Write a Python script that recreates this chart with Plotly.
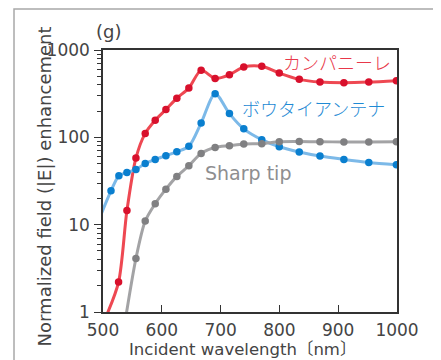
import plotly.graph_objects as go

# Data
red_x = [505.6, 526.5, 540.7, 556, 571.8, 588.8, 607, 625.6, 646, 666.9, 690.7, 715, 739.4, 770, 799.8, 833.8, 869, 909.7, 952, 999]
red_y = [0.9, 2.2, 14.5, 58, 111, 157, 208, 281, 366, 585, 473, 521, 638, 650, 544, 461, 429, 422, 429, 445]

blue_x = [487, 513.6, 527, 540.7, 556, 571.8, 588.8, 607, 625.6, 646, 666.9, 690.7, 715, 739.4, 770, 799.8, 833.8, 869, 909.7, 952, 999]
blue_y = [9.0, 24.4, 36.3, 39.6, 42.9, 50.2, 55.9, 61.6, 68.5, 78.8, 146, 315, 187, 125, 94, 78, 68, 61, 55.9, 51.6, 48.5]

gray_x = [533, 556, 571.8, 588.8, 607, 625.6, 646, 666.9, 690.7, 715, 739.4, 770, 799.8, 833.8, 869, 909.7, 952, 999]
gray_y = [0.5, 4.1, 11, 17.4, 25.5, 35.7, 47.3, 65.5, 76.7, 80.3, 84, 84.7, 89, 89.5, 89, 88.5, 88.5, 89]

x_ticks = [500, 600, 700, 800, 900, 1000]
y_ticks = [1, 10, 100, 1000]

series = [
    ("カンパニーレ", red_x, red_y, "#ee4852", "#d8102c"),
    ("ボウタイアンテナ", blue_x, blue_y, "#7cb9e8", "#0a7fcf"),
    ("Sharp tip", gray_x, gray_y, "#a3a3a5", "#808082"),
]

fig = go.Figure()
for name, xs, ys, lc, mc in series:
    fig.add_trace(go.Scatter(
        x=xs, y=ys, mode="lines+markers", name=name,
        line=dict(color=lc, width=3, shape="spline", smoothing=0.8),
        marker=dict(color=mc, size=7.5),
        cliponaxis=True, showlegend=False,
    ))

font = "DejaVu Sans, Noto Sans CJK JP, sans-serif"
jp = "Noto Sans CJK JP, sans-serif"
txt = "#444444"

fig.update_layout(
    width=433, height=352,
    margin=dict(l=95, r=44, t=42, b=48),
    paper_bgcolor="white", plot_bgcolor="white",
    font=dict(family=font, color=txt, size=16),
    xaxis=dict(
        range=[500, 1000], tickvals=x_ticks, ticktext=[str(v) for v in x_ticks],
        showgrid=False, zeroline=False, showline=True, linecolor="#333333", linewidth=1.5,
        mirror=True, ticks="inside", ticklen=7, tickcolor="#333333", tickwidth=1.2,
        tickfont=dict(size=17, color=txt), ticklabelstandoff=2,
    ),
    yaxis=dict(
        type="log", range=[0, 3], tickvals=y_ticks, ticktext=[str(v) for v in y_ticks],
        showgrid=False, zeroline=False, showline=True, linecolor="#333333", linewidth=1.5,
        mirror=True, ticks="outside", ticklen=7, tickcolor="#333333", tickwidth=1.2,
        minor=dict(ticks="outside", ticklen=4, tickcolor="#333333", tickwidth=1,
                   tickvals=[m * d for d in [1, 10, 100] for m in range(2, 10)]),
        tickfont=dict(size=17, color=txt), ticklabelstandoff=1,
    ),
    shapes=[dict(type="rect", xref="paper", yref="paper",
                 x0=-0.3027, x1=1.1327, y0=-0.3, y1=1.1565,
                 line=dict(color="#a8a8a8", width=1.5), layer="below")],
    annotations=[
        dict(text="Incident wavelength〔nm〕", xref="paper", yref="paper",
             x=0.475, y=-0.098, xanchor="center", yanchor="top", showarrow=False,
             font=dict(size=16.5, color=txt)),
        dict(text="Normalized field (|E|) enhancement", xref="paper", yref="paper",
             x=-0.2, y=0.48, xanchor="center", yanchor="middle", textangle=-90,
             showarrow=False, font=dict(size=18, color=txt)),
        dict(text="(g)", xref="paper", yref="paper", x=-0.03, y=1.07,
             xanchor="left", yanchor="middle", showarrow=False,
             font=dict(size=18, color=txt)),
        dict(text="カンパニーレ", xref="paper", yref="paper", x=0.986, y=0.954,
             xanchor="right", yanchor="middle", showarrow=False,
             font=dict(family=jp, size=18, color="#e8384a", weight=300)),
        dict(text="ボウタイアンテナ", xref="paper", yref="paper", x=0.965, y=0.778,
             xanchor="right", yanchor="middle", showarrow=False,
             font=dict(family=jp, size=18, color="#1f8ad4", weight=300)),
        dict(text="Sharp tip", xref="paper", yref="paper", x=0.34, y=0.53,
             xanchor="left", yanchor="middle", showarrow=False,
             font=dict(size=19, color="#8e8e90")),
    ],
)

fig.write_html("out.html")
